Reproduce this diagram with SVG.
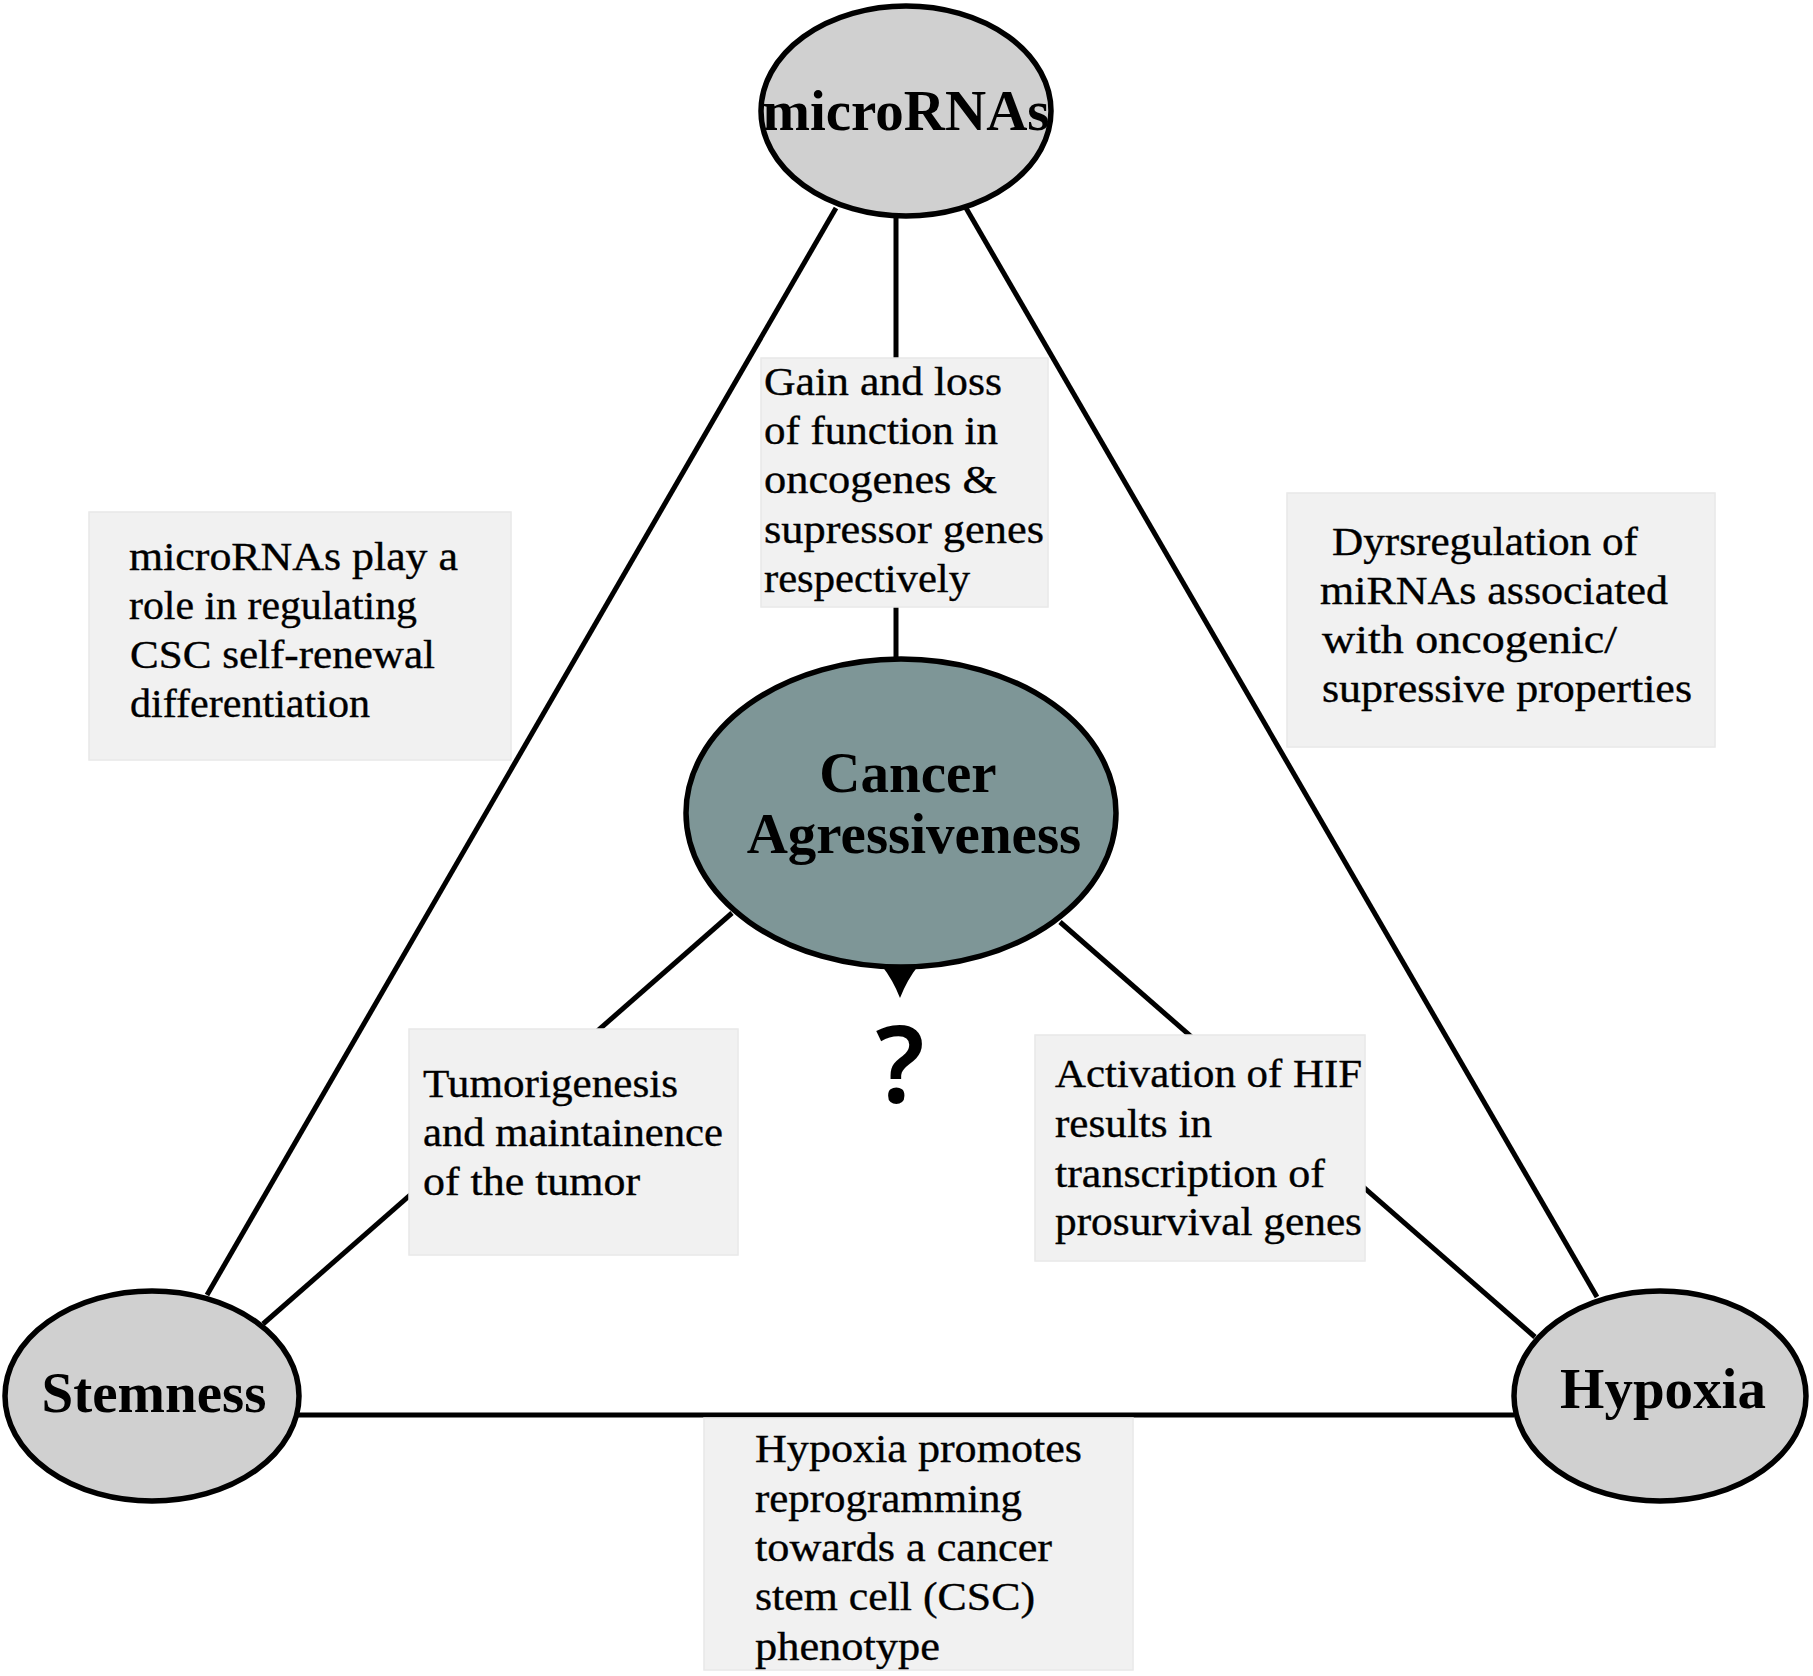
<svg xmlns="http://www.w3.org/2000/svg" width="1813" height="1676" viewBox="0 0 1813 1676">
<style>
.bg{fill:#ffffff}
.conn line{stroke:#000;stroke-width:5;stroke-linecap:butt}
.oval{fill:#d0d0d0;stroke:#000;stroke-width:5.5}
.core{fill:#7e9697;stroke:#000;stroke-width:5.5}
.lbl{font-family:"Liberation Serif","Times New Roman",serif;font-weight:bold;font-size:57px;fill:#000;text-anchor:middle}
.box{fill:#f1f1f1;stroke:#e8e8e8;stroke-width:1.5}
.txt{font-family:"Liberation Serif","Times New Roman",serif;font-size:39px;fill:#000;stroke:#000;stroke-width:0.35}
.q{font-family:"Noto Sans","DejaVu Sans",sans-serif;font-weight:600;font-size:106px;fill:#000;text-anchor:middle}
</style>
<rect class="bg" x="0" y="0" width="1813" height="1676"/>
<g id="connectors" class="conn">
<line x1="836" y1="208" x2="207" y2="1295"/>
<line x1="966" y1="208" x2="1597" y2="1297"/>
<line x1="896" y1="215" x2="896" y2="360"/>
<line x1="896" y1="605" x2="896" y2="660"/>
<line x1="732" y1="913" x2="263" y2="1324"/>
<line x1="1060" y1="922" x2="1535" y2="1337"/>
<line x1="298" y1="1415" x2="1514" y2="1415"/>
</g>
<g id="node-microRNAs">
<ellipse class="oval" cx="906" cy="111" rx="145" ry="105"/>
<text class="lbl" x="906" y="130">microRNAs</text>
</g>
<g id="node-cancer">
<path d="M882,966 Q893,980 900,998 Q907,980 918,966 Z" fill="#000"/>
<ellipse class="core" cx="901" cy="813" rx="215" ry="154"/>
<text class="lbl" x="908" y="792">Cancer</text>
<text class="lbl" x="914" y="853">Agressiveness</text>
<text class="q" x="900" y="1103">?</text>
</g>
<g id="node-stemness">
<ellipse class="oval" cx="152" cy="1396" rx="147" ry="105"/>
<text class="lbl" x="154" y="1412">Stemness</text>
</g>
<g id="node-hypoxia">
<ellipse class="oval" cx="1660" cy="1396" rx="146" ry="105"/>
<text class="lbl" x="1663" y="1408">Hypoxia</text>
</g>
<g id="box-mirna-csc">
<rect class="box" x="89" y="512" width="422" height="248"/>
<text class="txt" x="129" y="570" textLength="329" lengthAdjust="spacingAndGlyphs">microRNAs play a</text>
<text class="txt" x="129" y="619" textLength="288" lengthAdjust="spacingAndGlyphs">role in regulating</text>
<text class="txt" x="130" y="668" textLength="305" lengthAdjust="spacingAndGlyphs">CSC self-renewal</text>
<text class="txt" x="130" y="717" textLength="240" lengthAdjust="spacingAndGlyphs">differentiation</text>
</g>
<g id="box-gain-loss">
<rect class="box" x="761" y="358" width="287" height="249"/>
<text class="txt" x="764" y="395" textLength="238" lengthAdjust="spacingAndGlyphs">Gain and loss</text>
<text class="txt" x="764" y="444" textLength="234" lengthAdjust="spacingAndGlyphs">of function in</text>
<text class="txt" x="764" y="493" textLength="233" lengthAdjust="spacingAndGlyphs">oncogenes &amp;</text>
<text class="txt" x="764" y="543" textLength="280" lengthAdjust="spacingAndGlyphs">supressor genes</text>
<text class="txt" x="764" y="592" textLength="206" lengthAdjust="spacingAndGlyphs">respectively</text>
</g>
<g id="box-dysregulation">
<rect class="box" x="1287" y="493" width="428" height="254"/>
<text class="txt" x="1332" y="555" textLength="306" lengthAdjust="spacingAndGlyphs">Dyrsregulation of</text>
<text class="txt" x="1320" y="604" textLength="348" lengthAdjust="spacingAndGlyphs">miRNAs associated</text>
<text class="txt" x="1322" y="653" textLength="295" lengthAdjust="spacingAndGlyphs">with oncogenic/</text>
<text class="txt" x="1322" y="702" textLength="370" lengthAdjust="spacingAndGlyphs">supressive properties</text>
</g>
<g id="box-tumorigenesis">
<rect class="box" x="409" y="1029" width="329" height="226"/>
<text class="txt" x="423" y="1097" textLength="255" lengthAdjust="spacingAndGlyphs">Tumorigenesis</text>
<text class="txt" x="423" y="1146" textLength="300" lengthAdjust="spacingAndGlyphs">and maintainence</text>
<text class="txt" x="423" y="1195" textLength="217" lengthAdjust="spacingAndGlyphs">of the tumor</text>
</g>
<g id="box-hif">
<rect class="box" x="1035" y="1035" width="330" height="226"/>
<text class="txt" x="1055" y="1087" textLength="307" lengthAdjust="spacingAndGlyphs">Activation of HIF</text>
<text class="txt" x="1055" y="1137" textLength="157" lengthAdjust="spacingAndGlyphs">results in</text>
<text class="txt" x="1055" y="1187" textLength="270" lengthAdjust="spacingAndGlyphs">transcription of</text>
<text class="txt" x="1055" y="1235" textLength="307" lengthAdjust="spacingAndGlyphs">prosurvival genes</text>
</g>
<g id="box-reprogramming">
<rect class="box" x="704" y="1418" width="429" height="252"/>
<text class="txt" x="755" y="1462" textLength="327" lengthAdjust="spacingAndGlyphs">Hypoxia promotes</text>
<text class="txt" x="755" y="1512" textLength="267" lengthAdjust="spacingAndGlyphs">reprogramming</text>
<text class="txt" x="755" y="1561" textLength="297" lengthAdjust="spacingAndGlyphs">towards a cancer</text>
<text class="txt" x="755" y="1610" textLength="280" lengthAdjust="spacingAndGlyphs">stem cell (CSC)</text>
<text class="txt" x="755" y="1660" textLength="185" lengthAdjust="spacingAndGlyphs">phenotype</text>
</g>
</svg>
